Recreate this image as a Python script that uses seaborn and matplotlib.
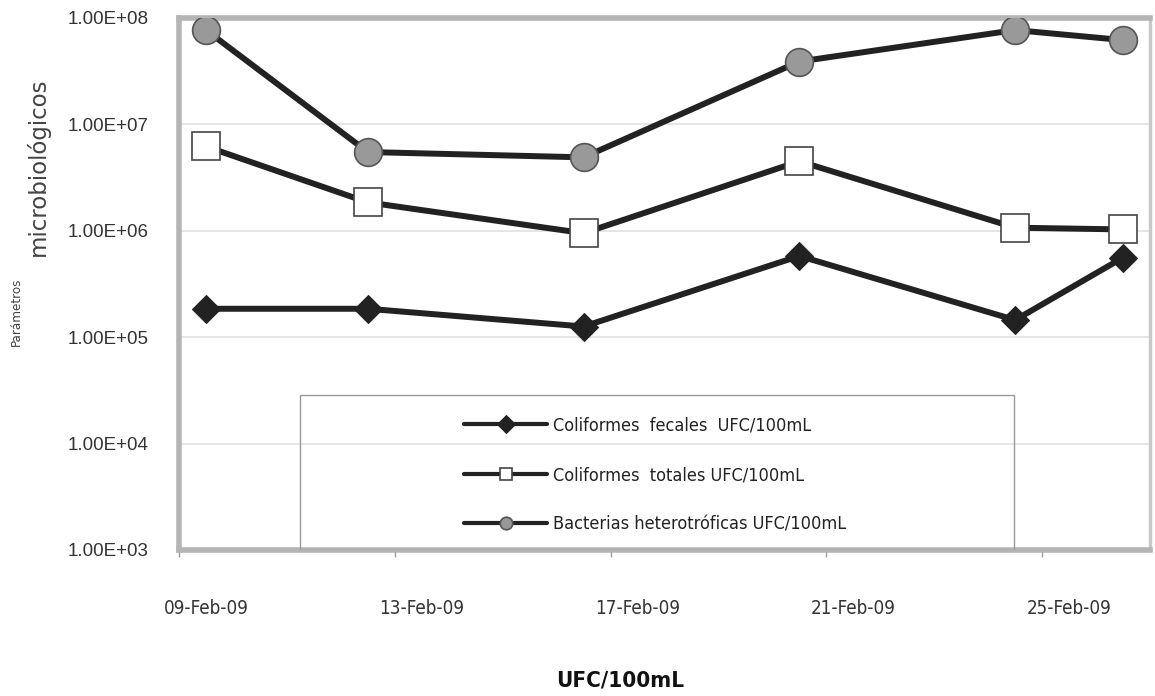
import numpy as np
import pandas as pd
import matplotlib
matplotlib.use("Agg")
import matplotlib.pyplot as plt
from matplotlib.patches import Rectangle
import seaborn as sns

# ---- data ----
fechas = ["2009-02-09", "2009-02-12", "2009-02-16", "2009-02-20", "2009-02-24", "2009-02-26"]
coliformes_fecales = [1.85e5, 1.85e5, 1.26e5, 5.8e5, 1.45e5, 5.6e5]
coliformes_totales = [6.2e6, 1.85e6, 9.5e5, 4.5e6, 1.07e6, 1.03e6]
bacterias_heterotroficas = [7.7e7, 5.5e6, 4.9e6, 3.9e7, 7.7e7, 6.2e7]
series_names = ["Coliformes  fecales  UFC/100mL",
                "Coliformes  totales UFC/100mL",
                "Bacterias heterotróficas UFC/100mL"]
xtick_labels = ["09-Feb-09", "13-Feb-09", "17-Feb-09", "21-Feb-09", "25-Feb-09"]
ytick_values = [1e3, 1e4, 1e5, 1e6, 1e7, 1e8]
ytick_labels = ["1.00E+03", "1.00E+04", "1.00E+05", "1.00E+06", "1.00E+07", "1.00E+08"]

sns.set_theme(style="white")
plt.rcParams["font.family"] = ["Liberation Sans", "DejaVu Sans"]

start = pd.Timestamp("2009-02-09")
xdays = (pd.to_datetime(fechas) - start).days.values + 0.5  # points at centre of day bin

fig = plt.figure(figsize=(11.55, 6.96), dpi=100)
ax = fig.add_axes([179 / 1155, 1 - 550 / 696, (1150 - 179) / 1155, (550 - 18) / 696])

dark = "#222222"
sns.lineplot(x=xdays, y=coliformes_fecales, ax=ax, color=dark, linewidth=4.3,
             marker="D", markersize=14, markerfacecolor=dark, markeredgecolor=dark,
             label=series_names[0], zorder=3)
sns.lineplot(x=xdays, y=coliformes_totales, ax=ax, color=dark, linewidth=4.3,
             marker="s", markersize=19.5, markerfacecolor="white", markeredgecolor="#444444",
             markeredgewidth=1.2, label=series_names[1], zorder=3)
sns.lineplot(x=xdays, y=bacterias_heterotroficas, ax=ax, color=dark, linewidth=4.3,
             marker="o", markersize=20, markerfacecolor="#999999", markeredgecolor="#555555",
             markeredgewidth=1.2, label=series_names[2], zorder=3)

ax.set_yscale("log")
ax.set_ylim(1e3, 1e8)
ax.set_xlim(0, 18)
ax.set_yticks(ytick_values)
ax.set_yticklabels(ytick_labels)
ax.yaxis.set_minor_locator(matplotlib.ticker.NullLocator())
ax.tick_params(axis="y", length=0, labelsize=13.5, labelcolor="#333333", pad=22)

# x: ticks at bin boundaries, labels centred in day bins
ax.set_xticks([0.5, 4.5, 8.5, 12.5, 16.5])
ax.set_xticklabels(xtick_labels)
ax.set_xticks([0, 4, 8, 12, 16], minor=True)
ax.tick_params(axis="x", which="major", length=0, labelsize=13.5, labelcolor="#333333", pad=35)
ax.tick_params(axis="x", which="minor", length=5, width=1, color="#999999", bottom=True)
for t in ax.get_xticklabels():
    t.set_fontfamily(["DejaVu Sans"])
    t.set_fontstretch("condensed")

ax.grid(axis="y", color="#e0e0e0", linewidth=1.2, zorder=0)
for s in ["left", "top", "bottom"]:
    ax.spines[s].set_color("#b5b5b5")
    ax.spines[s].set_linewidth(4)
ax.spines["right"].set_color("#c8c8c8")
ax.spines["right"].set_linewidth(2.5)

ax.set_xlabel("")
ax.set_ylabel("")

# legend box
box_x0, box_w, box_h = (300 - 179) / 971, (1014 - 300) / 971, (550 - 395) / 532
ax.add_patch(Rectangle((box_x0, 0), box_w, box_h, transform=ax.transAxes,
                       facecolor="none", edgecolor="#999999", linewidth=1, zorder=4))
leg = ax.legend(loc="center", bbox_to_anchor=(box_x0 + box_w / 2 - 0.002, box_h / 2 - 0.005),
                frameon=False, fontsize=13, handlelength=4.6, labelspacing=1.75,
                handletextpad=0.3)
for h in leg.legend_handles:
    h.set_markersize(9)
    h.set_linewidth(3)
for t in leg.get_texts():
    t.set_color("#222222")
    t.set_fontfamily(["DejaVu Sans"])
    t.set_fontstretch("condensed")

# axis titles
fig.text(38 / 1155, 1 - 167 / 696, "microbiológicos", rotation=90, ha="center", va="center",
         fontsize=16.5, color="#444444", family=["DejaVu Sans"])
fig.text(16 / 1155, 1 - 312 / 696, "Parámetros", rotation=90, ha="center", va="center",
         fontsize=9.5, color="#444444", family=["DejaVu Sans"], fontstretch="condensed")
fig.text(620 / 1155, 1 - 680 / 696, "UFC/100mL", ha="center", va="center",
         fontsize=16, color="#111111", family=["DejaVu Sans"], fontstretch="condensed",
         fontweight="bold")

fig.savefig("out.png", dpi=100, facecolor="white")
